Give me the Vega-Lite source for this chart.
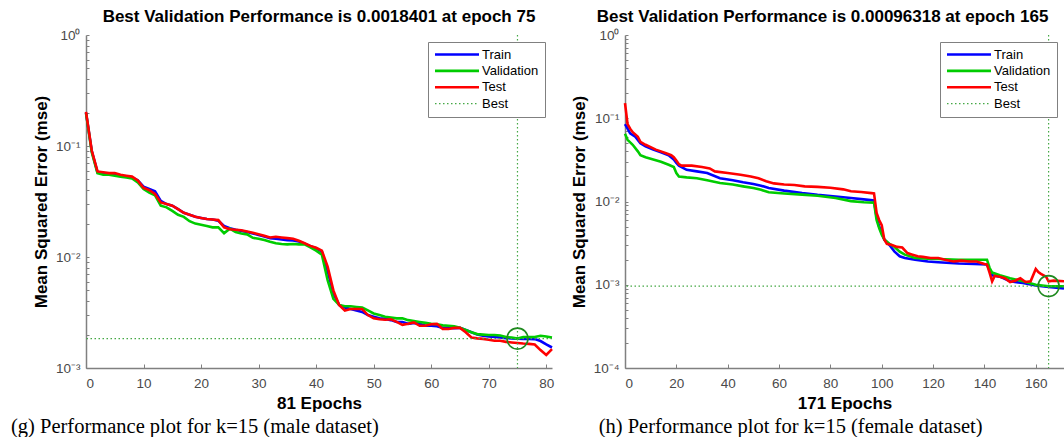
{
"$schema": "https://vega.github.io/schema/vega-lite/v6.json",
"padding": {"left": 10, "top": 8, "right": 0, "bottom": 0},
"background": "white",
"config": {
  "view": {"stroke": null},
  "font": "Liberation Sans",
  "axis": {"grid": false, "domainColor": "#808080", "domainWidth": 1.5, "tickColor": "#808080", "tickWidth": 1, "labelFont": "Liberation Sans", "labelFontSize": 13.5, "labelColor": "#4a4a4a", "titleFont": "Liberation Sans", "titleFontSize": 17, "titleFontWeight": "bold", "titleColor": "#000000", "labelOverlap": false},
  "legend": {"orient": "top-right", "offset": 7, "fillColor": "white", "strokeColor": "#808080", "padding": 6, "labelFont": "Liberation Sans", "labelFontSize": 13, "labelColor": "#000000", "symbolType": "M-1,0H7", "symbolSize": 121, "symbolStrokeWidth": 2.6, "labelOffset": 35, "rowPadding": 2.4, "cornerRadius": 0},
  "title": {"font": "Liberation Sans", "fontSize": 17, "fontWeight": "bold", "color": "#000000"}
},
"datasets": {
"male": [
{"s":"Train","e":0,"v":0.2},{"s":"Train","e":1,"v":0.09},{"s":"Train","e":2,"v":0.058},{"s":"Train","e":3,"v":0.057},{"s":"Train","e":4,"v":0.056},{"s":"Train","e":5,"v":0.056},{"s":"Train","e":6,"v":0.054},{"s":"Train","e":7,"v":0.053},{"s":"Train","e":8,"v":0.052},{"s":"Train","e":9,"v":0.049},{"s":"Train","e":10,"v":0.043},{"s":"Train","e":11,"v":0.041},{"s":"Train","e":12,"v":0.039},{"s":"Train","e":13,"v":0.032},{"s":"Train","e":14,"v":0.03},{"s":"Train","e":15,"v":0.029},{"s":"Train","e":16,"v":0.027},{"s":"Train","e":17,"v":0.025},{"s":"Train","e":18,"v":0.024},{"s":"Train","e":19,"v":0.023},{"s":"Train","e":20,"v":0.0225},{"s":"Train","e":21,"v":0.022},{"s":"Train","e":22,"v":0.0218},{"s":"Train","e":23,"v":0.0212},{"s":"Train","e":24,"v":0.019},{"s":"Train","e":25,"v":0.0182},{"s":"Train","e":26,"v":0.0176},{"s":"Train","e":27,"v":0.0172},{"s":"Train","e":28,"v":0.0168},{"s":"Train","e":29,"v":0.0163},{"s":"Train","e":30,"v":0.0158},{"s":"Train","e":31,"v":0.0153},{"s":"Train","e":32,"v":0.0148},{"s":"Train","e":33,"v":0.0146},{"s":"Train","e":34,"v":0.0144},{"s":"Train","e":35,"v":0.0142},{"s":"Train","e":36,"v":0.0141},{"s":"Train","e":37,"v":0.0138},{"s":"Train","e":38,"v":0.0132},{"s":"Train","e":39,"v":0.0125},{"s":"Train","e":40,"v":0.012},{"s":"Train","e":41,"v":0.0112},{"s":"Train","e":42,"v":0.0075},{"s":"Train","e":43,"v":0.0047},{"s":"Train","e":44,"v":0.0037},{"s":"Train","e":45,"v":0.0035},{"s":"Train","e":46,"v":0.0034},{"s":"Train","e":47,"v":0.0033},{"s":"Train","e":48,"v":0.0032},{"s":"Train","e":49,"v":0.003},{"s":"Train","e":50,"v":0.0029},{"s":"Train","e":51,"v":0.0028},{"s":"Train","e":52,"v":0.00277},{"s":"Train","e":53,"v":0.0027},{"s":"Train","e":54,"v":0.0026},{"s":"Train","e":55,"v":0.0026},{"s":"Train","e":56,"v":0.0025},{"s":"Train","e":57,"v":0.00255},{"s":"Train","e":58,"v":0.0025},{"s":"Train","e":59,"v":0.0024},{"s":"Train","e":60,"v":0.0024},{"s":"Train","e":61,"v":0.00238},{"s":"Train","e":62,"v":0.0023},{"s":"Train","e":63,"v":0.0023},{"s":"Train","e":64,"v":0.00228},{"s":"Train","e":65,"v":0.0023},{"s":"Train","e":66,"v":0.0022},{"s":"Train","e":67,"v":0.0021},{"s":"Train","e":68,"v":0.002},{"s":"Train","e":69,"v":0.00195},{"s":"Train","e":70,"v":0.00192},{"s":"Train","e":71,"v":0.0019},{"s":"Train","e":72,"v":0.00188},{"s":"Train","e":73,"v":0.00186},{"s":"Train","e":74,"v":0.00185},{"s":"Train","e":75,"v":0.00184},{"s":"Train","e":76,"v":0.00183},{"s":"Train","e":77,"v":0.00183},{"s":"Train","e":78,"v":0.00182},{"s":"Train","e":79,"v":0.00175},{"s":"Train","e":80,"v":0.00163},{"s":"Train","e":81,"v":0.00153},
{"s":"Validation","e":0,"v":0.198},{"s":"Validation","e":1,"v":0.088},{"s":"Validation","e":2,"v":0.057},{"s":"Validation","e":3,"v":0.055},{"s":"Validation","e":4,"v":0.055},{"s":"Validation","e":5,"v":0.054},{"s":"Validation","e":6,"v":0.053},{"s":"Validation","e":7,"v":0.052},{"s":"Validation","e":8,"v":0.051},{"s":"Validation","e":9,"v":0.047},{"s":"Validation","e":10,"v":0.041},{"s":"Validation","e":11,"v":0.038},{"s":"Validation","e":12,"v":0.036},{"s":"Validation","e":13,"v":0.029},{"s":"Validation","e":14,"v":0.028},{"s":"Validation","e":15,"v":0.026},{"s":"Validation","e":16,"v":0.024},{"s":"Validation","e":17,"v":0.023},{"s":"Validation","e":18,"v":0.021},{"s":"Validation","e":19,"v":0.02},{"s":"Validation","e":20,"v":0.0195},{"s":"Validation","e":21,"v":0.019},{"s":"Validation","e":22,"v":0.0185},{"s":"Validation","e":23,"v":0.0185},{"s":"Validation","e":24,"v":0.0164},{"s":"Validation","e":25,"v":0.018},{"s":"Validation","e":26,"v":0.0168},{"s":"Validation","e":27,"v":0.0163},{"s":"Validation","e":28,"v":0.016},{"s":"Validation","e":29,"v":0.0149},{"s":"Validation","e":30,"v":0.0146},{"s":"Validation","e":31,"v":0.0142},{"s":"Validation","e":32,"v":0.0137},{"s":"Validation","e":33,"v":0.0133},{"s":"Validation","e":34,"v":0.0131},{"s":"Validation","e":35,"v":0.013},{"s":"Validation","e":36,"v":0.0131},{"s":"Validation","e":37,"v":0.013},{"s":"Validation","e":38,"v":0.013},{"s":"Validation","e":39,"v":0.0122},{"s":"Validation","e":40,"v":0.0114},{"s":"Validation","e":41,"v":0.0105},{"s":"Validation","e":42,"v":0.0062},{"s":"Validation","e":43,"v":0.0042},{"s":"Validation","e":44,"v":0.0037},{"s":"Validation","e":45,"v":0.0036},{"s":"Validation","e":46,"v":0.0036},{"s":"Validation","e":47,"v":0.00355},{"s":"Validation","e":48,"v":0.0035},{"s":"Validation","e":49,"v":0.0033},{"s":"Validation","e":50,"v":0.0031},{"s":"Validation","e":51,"v":0.003},{"s":"Validation","e":52,"v":0.0029},{"s":"Validation","e":53,"v":0.00285},{"s":"Validation","e":54,"v":0.0028},{"s":"Validation","e":55,"v":0.0028},{"s":"Validation","e":56,"v":0.0027},{"s":"Validation","e":57,"v":0.00265},{"s":"Validation","e":58,"v":0.0026},{"s":"Validation","e":59,"v":0.00255},{"s":"Validation","e":60,"v":0.0025},{"s":"Validation","e":61,"v":0.00248},{"s":"Validation","e":62,"v":0.00242},{"s":"Validation","e":63,"v":0.0024},{"s":"Validation","e":64,"v":0.00237},{"s":"Validation","e":65,"v":0.0023},{"s":"Validation","e":66,"v":0.0022},{"s":"Validation","e":67,"v":0.0021},{"s":"Validation","e":68,"v":0.00202},{"s":"Validation","e":69,"v":0.002},{"s":"Validation","e":70,"v":0.00198},{"s":"Validation","e":71,"v":0.00198},{"s":"Validation","e":72,"v":0.00196},{"s":"Validation","e":73,"v":0.0019},{"s":"Validation","e":74,"v":0.00188},{"s":"Validation","e":75,"v":0.00184},{"s":"Validation","e":76,"v":0.0019},{"s":"Validation","e":77,"v":0.0019},{"s":"Validation","e":78,"v":0.0019},{"s":"Validation","e":79,"v":0.00195},{"s":"Validation","e":80,"v":0.00192},{"s":"Validation","e":81,"v":0.00188},
{"s":"Test","e":0,"v":0.203},{"s":"Test","e":1,"v":0.091},{"s":"Test","e":2,"v":0.059},{"s":"Test","e":3,"v":0.058},{"s":"Test","e":4,"v":0.057},{"s":"Test","e":5,"v":0.057},{"s":"Test","e":6,"v":0.055},{"s":"Test","e":7,"v":0.054},{"s":"Test","e":8,"v":0.053},{"s":"Test","e":9,"v":0.049},{"s":"Test","e":10,"v":0.042},{"s":"Test","e":11,"v":0.04},{"s":"Test","e":12,"v":0.037},{"s":"Test","e":13,"v":0.031},{"s":"Test","e":14,"v":0.03},{"s":"Test","e":15,"v":0.029},{"s":"Test","e":16,"v":0.027},{"s":"Test","e":17,"v":0.025},{"s":"Test","e":18,"v":0.024},{"s":"Test","e":19,"v":0.023},{"s":"Test","e":20,"v":0.0225},{"s":"Test","e":21,"v":0.022},{"s":"Test","e":22,"v":0.0218},{"s":"Test","e":23,"v":0.0215},{"s":"Test","e":24,"v":0.0185},{"s":"Test","e":25,"v":0.0178},{"s":"Test","e":26,"v":0.0176},{"s":"Test","e":27,"v":0.0174},{"s":"Test","e":28,"v":0.017},{"s":"Test","e":29,"v":0.0165},{"s":"Test","e":30,"v":0.016},{"s":"Test","e":31,"v":0.0155},{"s":"Test","e":32,"v":0.015},{"s":"Test","e":33,"v":0.0152},{"s":"Test","e":34,"v":0.015},{"s":"Test","e":35,"v":0.0148},{"s":"Test","e":36,"v":0.0146},{"s":"Test","e":37,"v":0.014},{"s":"Test","e":38,"v":0.0133},{"s":"Test","e":39,"v":0.0126},{"s":"Test","e":40,"v":0.0121},{"s":"Test","e":41,"v":0.0114},{"s":"Test","e":42,"v":0.0082},{"s":"Test","e":43,"v":0.005},{"s":"Test","e":44,"v":0.0037},{"s":"Test","e":45,"v":0.0033},{"s":"Test","e":46,"v":0.0034},{"s":"Test","e":47,"v":0.0034},{"s":"Test","e":48,"v":0.0034},{"s":"Test","e":49,"v":0.003},{"s":"Test","e":50,"v":0.0028},{"s":"Test","e":51,"v":0.00275},{"s":"Test","e":52,"v":0.00272},{"s":"Test","e":53,"v":0.00275},{"s":"Test","e":54,"v":0.0026},{"s":"Test","e":55,"v":0.00245},{"s":"Test","e":56,"v":0.0025},{"s":"Test","e":57,"v":0.00257},{"s":"Test","e":58,"v":0.0024},{"s":"Test","e":59,"v":0.0024},{"s":"Test","e":60,"v":0.00248},{"s":"Test","e":61,"v":0.0025},{"s":"Test","e":62,"v":0.00225},{"s":"Test","e":63,"v":0.00225},{"s":"Test","e":64,"v":0.0023},{"s":"Test","e":65,"v":0.0023},{"s":"Test","e":66,"v":0.0021},{"s":"Test","e":67,"v":0.00188},{"s":"Test","e":68,"v":0.00185},{"s":"Test","e":69,"v":0.00183},{"s":"Test","e":70,"v":0.0018},{"s":"Test","e":71,"v":0.00176},{"s":"Test","e":72,"v":0.00176},{"s":"Test","e":73,"v":0.00172},{"s":"Test","e":74,"v":0.0017},{"s":"Test","e":75,"v":0.00168},{"s":"Test","e":76,"v":0.00166},{"s":"Test","e":77,"v":0.00165},{"s":"Test","e":78,"v":0.00163},{"s":"Test","e":79,"v":0.00145},{"s":"Test","e":80,"v":0.00131},{"s":"Test","e":81,"v":0.00148}
],
"female": [
{"s":"Train","e":0,"v":0.085},{"s":"Train","e":1,"v":0.075},{"s":"Train","e":2,"v":0.066},{"s":"Train","e":4,"v":0.06},{"s":"Train","e":6,"v":0.05},{"s":"Train","e":8,"v":0.046},{"s":"Train","e":11,"v":0.042},{"s":"Train","e":14,"v":0.039},{"s":"Train","e":17,"v":0.036},{"s":"Train","e":19,"v":0.032},{"s":"Train","e":20,"v":0.029},{"s":"Train","e":21,"v":0.027},{"s":"Train","e":24,"v":0.024},{"s":"Train","e":28,"v":0.023},{"s":"Train","e":32,"v":0.022},{"s":"Train","e":37,"v":0.019},{"s":"Train","e":42,"v":0.018},{"s":"Train","e":46,"v":0.017},{"s":"Train","e":50,"v":0.0162},{"s":"Train","e":53,"v":0.0155},{"s":"Train","e":56,"v":0.0145},{"s":"Train","e":62,"v":0.0135},{"s":"Train","e":69,"v":0.0126},{"s":"Train","e":75,"v":0.012},{"s":"Train","e":82,"v":0.0115},{"s":"Train","e":88,"v":0.011},{"s":"Train","e":93,"v":0.0106},{"s":"Train","e":97,"v":0.0103},{"s":"Train","e":98,"v":0.0065},{"s":"Train","e":99,"v":0.005},{"s":"Train","e":100,"v":0.0042},{"s":"Train","e":101,"v":0.0035},{"s":"Train","e":103,"v":0.003},{"s":"Train","e":105,"v":0.0025},{"s":"Train","e":107,"v":0.0022},{"s":"Train","e":109,"v":0.0021},{"s":"Train","e":113,"v":0.002},{"s":"Train","e":118,"v":0.0019},{"s":"Train","e":122,"v":0.00186},{"s":"Train","e":130,"v":0.0018},{"s":"Train","e":136,"v":0.00178},{"s":"Train","e":141,"v":0.00175},{"s":"Train","e":142,"v":0.0015},{"s":"Train","e":143,"v":0.0013},{"s":"Train","e":146,"v":0.00125},{"s":"Train","e":150,"v":0.0011},{"s":"Train","e":155,"v":0.00105},{"s":"Train","e":160,"v":0.00098},{"s":"Train","e":165,"v":0.00094},{"s":"Train","e":171,"v":0.0009},
{"s":"Validation","e":0,"v":0.065},{"s":"Validation","e":1,"v":0.055},{"s":"Validation","e":3,"v":0.048},{"s":"Validation","e":5,"v":0.04},{"s":"Validation","e":6,"v":0.036},{"s":"Validation","e":8,"v":0.034},{"s":"Validation","e":11,"v":0.032},{"s":"Validation","e":14,"v":0.03},{"s":"Validation","e":17,"v":0.0276},{"s":"Validation","e":19,"v":0.026},{"s":"Validation","e":20,"v":0.022},{"s":"Validation","e":21,"v":0.02},{"s":"Validation","e":24,"v":0.0195},{"s":"Validation","e":28,"v":0.019},{"s":"Validation","e":32,"v":0.018},{"s":"Validation","e":37,"v":0.0167},{"s":"Validation","e":42,"v":0.016},{"s":"Validation","e":46,"v":0.0152},{"s":"Validation","e":50,"v":0.0145},{"s":"Validation","e":53,"v":0.0138},{"s":"Validation","e":56,"v":0.0129},{"s":"Validation","e":62,"v":0.0125},{"s":"Validation","e":69,"v":0.0121},{"s":"Validation","e":75,"v":0.0117},{"s":"Validation","e":82,"v":0.011},{"s":"Validation","e":88,"v":0.0101},{"s":"Validation","e":93,"v":0.0098},{"s":"Validation","e":97,"v":0.0097},{"s":"Validation","e":98,"v":0.006},{"s":"Validation","e":99,"v":0.0048},{"s":"Validation","e":100,"v":0.004},{"s":"Validation","e":101,"v":0.0035},{"s":"Validation","e":103,"v":0.0031},{"s":"Validation","e":105,"v":0.00284},{"s":"Validation","e":107,"v":0.0025},{"s":"Validation","e":109,"v":0.0023},{"s":"Validation","e":113,"v":0.0021},{"s":"Validation","e":118,"v":0.00205},{"s":"Validation","e":122,"v":0.00204},{"s":"Validation","e":130,"v":0.002},{"s":"Validation","e":136,"v":0.002},{"s":"Validation","e":141,"v":0.002},{"s":"Validation","e":142,"v":0.0016},{"s":"Validation","e":143,"v":0.0014},{"s":"Validation","e":146,"v":0.0013},{"s":"Validation","e":150,"v":0.0012},{"s":"Validation","e":155,"v":0.0011},{"s":"Validation","e":160,"v":0.001},{"s":"Validation","e":165,"v":0.00096},{"s":"Validation","e":171,"v":0.00096},
{"s":"Test","e":0,"v":0.152},{"s":"Test","e":1,"v":0.085},{"s":"Test","e":2,"v":0.075},{"s":"Test","e":3,"v":0.068},{"s":"Test","e":4,"v":0.064},{"s":"Test","e":5,"v":0.06},{"s":"Test","e":6,"v":0.052},{"s":"Test","e":8,"v":0.048},{"s":"Test","e":10,"v":0.045},{"s":"Test","e":12,"v":0.042},{"s":"Test","e":14,"v":0.04},{"s":"Test","e":16,"v":0.038},{"s":"Test","e":18,"v":0.036},{"s":"Test","e":19,"v":0.034},{"s":"Test","e":20,"v":0.031},{"s":"Test","e":21,"v":0.028},{"s":"Test","e":22,"v":0.027},{"s":"Test","e":26,"v":0.027},{"s":"Test","e":30,"v":0.026},{"s":"Test","e":33,"v":0.025},{"s":"Test","e":35,"v":0.023},{"s":"Test","e":40,"v":0.022},{"s":"Test","e":45,"v":0.021},{"s":"Test","e":49,"v":0.02},{"s":"Test","e":52,"v":0.019},{"s":"Test","e":55,"v":0.0175},{"s":"Test","e":58,"v":0.0165},{"s":"Test","e":62,"v":0.016},{"s":"Test","e":66,"v":0.0158},{"s":"Test","e":70,"v":0.0152},{"s":"Test","e":75,"v":0.015},{"s":"Test","e":80,"v":0.0146},{"s":"Test","e":85,"v":0.014},{"s":"Test","e":88,"v":0.0133},{"s":"Test","e":92,"v":0.013},{"s":"Test","e":96,"v":0.0126},{"s":"Test","e":97,"v":0.0125},{"s":"Test","e":98,"v":0.0073},{"s":"Test","e":99,"v":0.006},{"s":"Test","e":100,"v":0.0052},{"s":"Test","e":101,"v":0.0035},{"s":"Test","e":102,"v":0.0031},{"s":"Test","e":104,"v":0.003},{"s":"Test","e":106,"v":0.00285},{"s":"Test","e":108,"v":0.0028},{"s":"Test","e":110,"v":0.0024},{"s":"Test","e":112,"v":0.0023},{"s":"Test","e":114,"v":0.0022},{"s":"Test","e":116,"v":0.00216},{"s":"Test","e":119,"v":0.0021},{"s":"Test","e":122,"v":0.0021},{"s":"Test","e":125,"v":0.00198},{"s":"Test","e":128,"v":0.0019},{"s":"Test","e":131,"v":0.00195},{"s":"Test","e":134,"v":0.0019},{"s":"Test","e":137,"v":0.0019},{"s":"Test","e":140,"v":0.00178},{"s":"Test","e":141,"v":0.00175},{"s":"Test","e":142,"v":0.0014},{"s":"Test","e":143,"v":0.0011},{"s":"Test","e":144,"v":0.00128},{"s":"Test","e":146,"v":0.00125},{"s":"Test","e":148,"v":0.0012},{"s":"Test","e":150,"v":0.00108},{"s":"Test","e":152,"v":0.00112},{"s":"Test","e":154,"v":0.0012},{"s":"Test","e":156,"v":0.00108},{"s":"Test","e":158,"v":0.0011},{"s":"Test","e":160,"v":0.00155},{"s":"Test","e":161,"v":0.00142},{"s":"Test","e":162,"v":0.00135},{"s":"Test","e":164,"v":0.00125},{"s":"Test","e":165,"v":0.0011},{"s":"Test","e":167,"v":0.00112},{"s":"Test","e":171,"v":0.0011}
]
},
"spacing": 12,
"resolve": {"scale": {"x": "independent", "y": "independent", "color": "independent"}, "legend": {"color": "independent"}},
"hconcat": [
{
  "title": {"text": "(g) Performance plot for k=15 (male dataset)", "orient": "bottom", "anchor": "start", "font": "Liberation Serif", "fontSize": 20.5, "fontWeight": "normal", "color": "#000000", "dx": -21.5, "offset": 5},
  "resolve": {"scale": {"color": "independent"}, "legend": {"color": "independent"}},
  "vconcat": [
  {
    "width": 466, "height": 333,
    "title": {"text": "Best Validation Performance is 0.0018401 at epoch 75", "anchor": "middle", "frame": "group", "offset": 2},
    "data": {"name": "male"},
    "layer": [
      {"mark": {"type": "line", "strokeWidth": 2.6},
       "encoding": {
         "x": {"field": "e", "type": "quantitative", "scale": {"domain": [0, 81], "nice": false}, "axis": {"values": [0,10,20,30,40,50,60,70,80], "title": "81 Epochs", "tickSize": -4, "labelPadding": 12, "titlePadding": 6}},
         "y": {"field": "v", "type": "quantitative", "scale": {"type": "log", "domain": [0.001, 1], "nice": false}, "axis": {"values": [0.001,0.002,0.003,0.004,0.005,0.006,0.007,0.008,0.009,0.01,0.02,0.03,0.04,0.05,0.06,0.07,0.08,0.09,0.1,0.2,0.3,0.4,0.5,0.6,0.7,0.8,0.9,1], "labelExpr": "abs(log(datum.value)/LN10 - round(log(datum.value)/LN10)) < 0.01 ? (round(log(datum.value)/LN10) == 0 ? '10⁰' : '10⁻' + ['⁰','¹','²','³','⁴'][-round(log(datum.value)/LN10)]) : ''", "title": "Mean Squared Error  (mse)", "tickSize": -3, "labelPadding": 9, "titlePadding": 5}},
         "color": {"field": "s", "type": "nominal", "scale": {"domain": ["Train", "Validation", "Test", "Best"], "range": ["#0000ff", "#00cc00", "#ff0000", "#45a845"]},
           "legend": {"title": null, "encode": {"symbols": {"update": {"strokeWidth": {"signal": "datum.value === 'Best' ? 1.2 : 2.6"}, "strokeDash": {"signal": "datum.value === 'Best' ? [1.5, 2.5] : [1, 0]"}}}}}}
       }},
      {"data": {"values": [{"s": "Best", "e": 75}]}, "mark": {"type": "rule", "strokeDash": [1.5, 2.5], "strokeWidth": 1.2}, "encoding": {"x": {"field": "e", "type": "quantitative"}, "color": {"field": "s", "type": "nominal"}}},
      {"data": {"values": [{"s": "Best", "v": 0.0018401}]}, "mark": {"type": "rule", "strokeDash": [1.5, 2.5], "strokeWidth": 1.2}, "encoding": {"y": {"field": "v", "type": "quantitative"}, "color": {"field": "s", "type": "nominal"}}},
      {"data": {"values": [{"e": 75, "v": 0.0018401}]}, "mark": {"type": "point", "filled": false, "size": 440, "strokeWidth": 1.6, "color": "#1f8a1f", "opacity": 1}, "encoding": {"x": {"field": "e", "type": "quantitative"}, "y": {"field": "v", "type": "quantitative"}}}
    ]
  }]
},
{
  "title": {"text": "(h) Performance plot for k=15 (female dataset)", "orient": "bottom", "anchor": "start", "font": "Liberation Serif", "fontSize": 20.5, "fontWeight": "normal", "color": "#000000", "dx": 28.5, "offset": 5},
  "resolve": {"scale": {"color": "independent"}, "legend": {"color": "independent"}},
  "vconcat": [
  {
    "width": 439, "height": 333,
    "title": {"text": "Best Validation Performance is 0.00096318 at epoch 165", "anchor": "middle", "frame": "group", "offset": 2, "dx": -22},
    "data": {"name": "female"},
    "layer": [
      {"mark": {"type": "line", "strokeWidth": 2.6},
       "encoding": {
         "x": {"field": "e", "type": "quantitative", "scale": {"domain": [0, 171], "nice": false}, "axis": {"values": [0,20,40,60,80,100,120,140,160], "title": "171 Epochs", "tickSize": -4, "labelPadding": 12, "titlePadding": 6}},
         "y": {"field": "v", "type": "quantitative", "scale": {"type": "log", "domain": [0.0001, 1], "nice": false}, "axis": {"values": [0.0001,0.0002,0.0003,0.0004,0.0005,0.0006,0.0007,0.0008,0.0009,0.001,0.002,0.003,0.004,0.005,0.006,0.007,0.008,0.009,0.01,0.02,0.03,0.04,0.05,0.06,0.07,0.08,0.09,0.1,0.2,0.3,0.4,0.5,0.6,0.7,0.8,0.9,1], "labelExpr": "abs(log(datum.value)/LN10 - round(log(datum.value)/LN10)) < 0.01 ? (round(log(datum.value)/LN10) == 0 ? '10⁰' : '10⁻' + ['⁰','¹','²','³','⁴'][-round(log(datum.value)/LN10)]) : ''", "title": "Mean Squared Error  (mse)", "tickSize": -3, "labelPadding": 9, "titlePadding": 5}},
         "color": {"field": "s", "type": "nominal", "scale": {"domain": ["Train", "Validation", "Test", "Best"], "range": ["#0000ff", "#00cc00", "#ff0000", "#45a845"]},
           "legend": {"title": null, "encode": {"symbols": {"update": {"strokeWidth": {"signal": "datum.value === 'Best' ? 1.2 : 2.6"}, "strokeDash": {"signal": "datum.value === 'Best' ? [1.5, 2.5] : [1, 0]"}}}}}}
       }},
      {"data": {"values": [{"s": "Best", "e": 165}]}, "mark": {"type": "rule", "strokeDash": [1.5, 2.5], "strokeWidth": 1.2}, "encoding": {"x": {"field": "e", "type": "quantitative"}, "color": {"field": "s", "type": "nominal"}}},
      {"data": {"values": [{"s": "Best", "v": 0.00096318}]}, "mark": {"type": "rule", "strokeDash": [1.5, 2.5], "strokeWidth": 1.2}, "encoding": {"y": {"field": "v", "type": "quantitative"}, "color": {"field": "s", "type": "nominal"}}},
      {"data": {"values": [{"e": 165, "v": 0.00096318}]}, "mark": {"type": "point", "filled": false, "size": 440, "strokeWidth": 1.6, "color": "#1f8a1f", "opacity": 1}, "encoding": {"x": {"field": "e", "type": "quantitative"}, "y": {"field": "v", "type": "quantitative"}}}
    ]
  }]
}
]
}
